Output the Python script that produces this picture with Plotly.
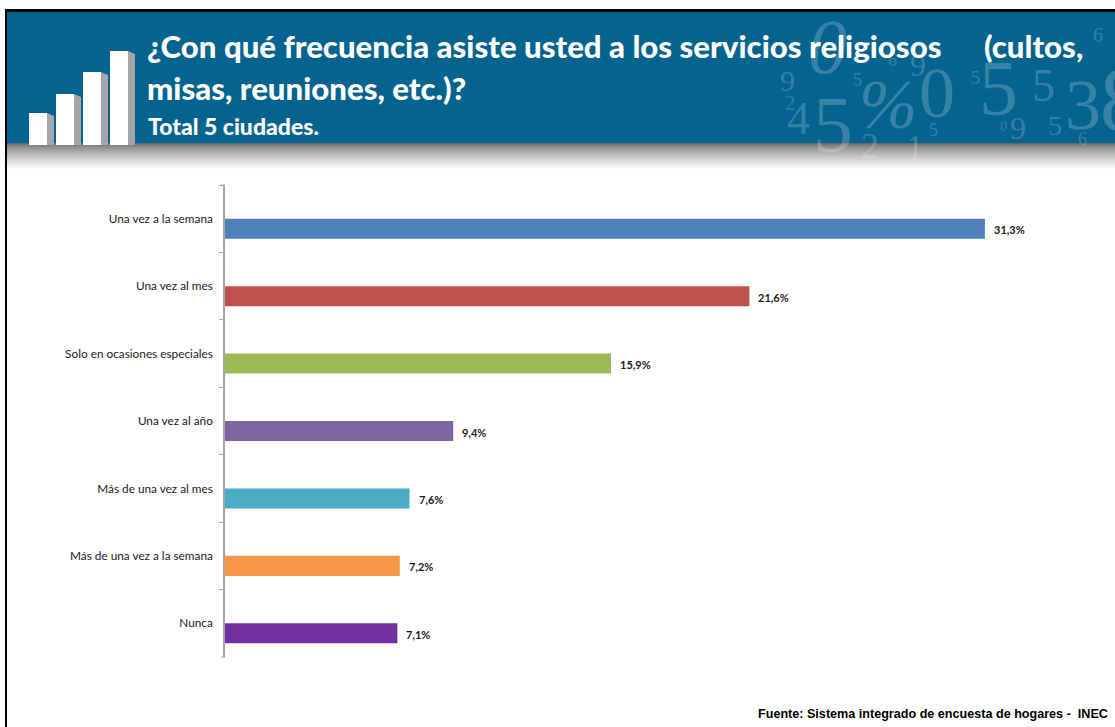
import plotly.graph_objects as go

categories = ["Una vez a la semana", "Una vez al mes", "Solo en ocasiones especiales",
              "Una vez al año", "Más de una vez al mes", "Más de una vez a la semana", "Nunca"]
values = [31.3, 21.6, 15.9, 9.4, 7.6, 7.2, 7.1]
colors = ["#4F81BD", "#C0504D", "#9BBB59", "#8064A2", "#4BACC6", "#F79646", "#7030A0"]
title_line1 = "¿Con qué frecuencia asiste usted a los servicios religiosos"
title_line1b = "(cultos,"
title_line2 = "misas, reuniones, etc.)?"
subtitle = "Total 5 ciudades."
source = "Fuente: Sistema integrado de encuesta de hogares -  INEC"

W, H = 1115, 727
BLUE = "#05638F"
px = lambda x: x / W
py = lambda y: 1 - y / H


def rect(x0, y0, x1, y1, color):
    return dict(type="rect", xref="paper", yref="paper", x0=px(x0), x1=px(x1), y0=py(y0), y1=py(y1),
                fillcolor=color, line_width=0, layer="below")


shapes = []
# shadow under the banner
for i in range(27):
    t = i / 26
    g = int(105 + 150 * t ** 0.7)
    shapes.append(rect(7, 143 + i, W, 144 + i, f"rgb({g},{g},{g})"))
shapes.append(rect(7, 12, W, 143, BLUE))
# outer border
shapes.append(rect(5, 9, W, 12, "#000000"))
shapes.append(rect(5, 9, 7, H, "#000000"))
# end ticks of the category axis
for y in (185, 657):
    shapes.append(dict(type="line", xref="paper", yref="paper", x0=px(221), x1=px(225), y0=py(y), y1=py(y),
                       line=dict(color="#A6A6A6", width=1)))
# banner icon
for x0, top in [(29, 113), (56, 94), (83, 72), (110, 51)]:
    shapes.append(dict(type="path", xref="paper", yref="paper", layer="above",
                       path=f"M {px(x0+18)} {py(top)} L {px(x0+25)} {py(top+3)} L {px(x0+25)} {py(145)} L {px(x0+18)} {py(145)} Z",
                       fillcolor="#A4A6A9", line_width=0))
    s = rect(x0, top, x0 + 18, 145, "#FFFFFF")
    s["layer"] = "above"
    shapes.append(s)

annotations = []


def text(x, y, s, size, color="#FFFFFF", family="Lato", weight="normal", anchor="left"):
    annotations.append(dict(xref="paper", yref="paper", x=px(x), y=py(y), text=s,
                            showarrow=False, xanchor=anchor, yanchor="middle",
                            font=dict(size=size, color=color, family=family, weight=weight)))


# decorative numerals in the banner
faint = "rgba(255,255,255,0.20)"
for x, y, s, size in [(827, 47, "<i>0</i>", 78), (787, 80, "9", 30), (790, 103, "2", 20), (798, 118, "4", 46),
                      (833, 125, "5", 80), (888, 105, "<i>%</i>", 70), (937, 93, "0", 72), (998, 87, "5", 78),
                      (1043, 85, "5", 46), (1083, 105, "3", 72), (1122, 100, "8", 90), (1018, 128, "9", 32),
                      (1055, 125, "5", 28), (1003, 127, "<i>0</i>", 14), (933, 130, "5", 18), (975, 78, "5", 18),
                      (857, 80, "5", 18), (918, 65, "9", 32), (892, 60, "6", 18), (1098, 35, "6", 20),
                      (1082, 139, "6", 18), (870, 146, "2", 36), (915, 148, "1", 36)]:
    text(x, y, s, size, color=faint, family="Liberation Serif", anchor="center")

text(145, 46, title_line1, 31.2, weight=900)
text(982, 46, title_line1b, 31.2, weight=900)
text(145, 88, title_line2, 31.2, weight=900)
text(146, 126, subtitle, 23, weight=900)
text(1110, 714, source, 12.6, color="#000000", family="Liberation Sans", weight="bold", anchor="right")

# value labels next to the bars
for c, v in zip(categories, values):
    annotations.append(dict(xref="x", yref="y", x=v, y=c, text=f"<b>{v:.1f}%</b>".replace(".", ","),
                            showarrow=False, xanchor="left", yanchor="middle", xshift=7, yshift=-11,
                            font=dict(size=11, color="#1A1A1A", family="Lato")))

fig = go.Figure(go.Bar(y=categories, x=values, orientation="h", marker=dict(color=colors, line_width=0),
                       width=0.297, offset=0))
fig.update_layout(width=W, height=H, margin=dict(l=0, r=0, t=0, b=0), autosize=False,
                  paper_bgcolor="#FFFFFF", plot_bgcolor="rgba(0,0,0,0)", showlegend=False,
                  shapes=shapes, annotations=annotations,
                  xaxis=dict(domain=[px(225), px(225 + 874)], range=[0, 36], visible=False),
                  yaxis=dict(domain=[py(657), py(185)], autorange="reversed", type="category",
                             showline=True, linecolor="#A6A6A6", linewidth=1.5, ticks="outside",
                             tickson="boundaries", ticklen=4, tickcolor="#A6A6A6", showgrid=False,
                             ticklabelstandoff=8, tickfont=dict(size=11.8, family="Lato", color="#1A1A1A")))
fig.write_html("out.html", config=dict(displayModeBar=False),
               post_script="document.body.style.margin='0';document.body.style.overflow='hidden';")
